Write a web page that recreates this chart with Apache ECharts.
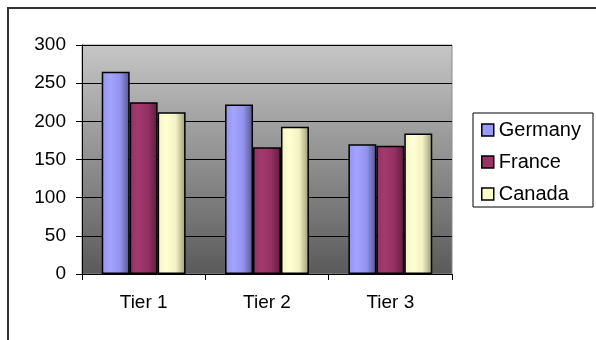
<!DOCTYPE html>
<html>
<head>
<meta charset="utf-8">
<script src="https://cdn.jsdelivr.net/npm/echarts@6/dist/echarts.min.js"></script>
<style>
  html, body { margin: 0; padding: 0; background: #fff; }
  #chart { width: 596px; height: 340px; }
</style>
</head>
<body>
<div id="chart"></div>
<script>
// Chart data
var categories = ['Tier 1', 'Tier 2', 'Tier 3'];
var germany = [265, 222, 170];
var france = [225, 166, 168];
var canada = [212, 193, 184];
var yTicks = [0, 50, 100, 150, 200, 250, 300];

var FONT = 'Liberation Sans, Arial, sans-serif';

// Horizontal shading for a cylinder-like bar face
function barFill(light, mid, dark) {
  return new echarts.graphic.LinearGradient(0, 0, 1, 0, [
    { offset: 0, color: mid },
    { offset: 0.3, color: light },
    { offset: 0.65, color: mid },
    { offset: 1, color: dark }
  ]);
}

function barSeries(name, data, fill) {
  return {
    name: name,
    type: 'bar',
    data: data,
    barGap: '0%',
    barCategoryGap: '32%',
    itemStyle: { color: fill, borderColor: '#000', borderWidth: 1.5 }
  };
}

var chart = echarts.init(document.getElementById('chart'), null, { renderer: 'canvas' });

chart.setOption({
  animation: false,
  color: ['#9999ff', '#993366', '#ffffcc'],
  graphic: [{
    // outer chart frame
    type: 'rect',
    shape: { x: 8, y: 8, width: 620, height: 360 },
    style: { fill: 'none', stroke: '#333', lineWidth: 2 },
    silent: true
  }, {
    // legend frame
    type: 'rect',
    shape: { x: 473, y: 113, width: 120, height: 94 },
    style: { fill: 'none', stroke: '#000', lineWidth: 1 },
    silent: true
  }],
  grid: {
    left: 82, right: 144, top: 45, bottom: 66,
    show: true,
    borderColor: '#8a8a8a',
    borderWidth: 1,
    backgroundColor: new echarts.graphic.LinearGradient(0, 0, 0, 1, [
      { offset: 0, color: '#c6c6c6' },
      { offset: 1, color: '#5a5a5a' }
    ])
  },
  legend: {
    orient: 'vertical',
    left: 473, top: 114,
    itemWidth: 12, itemHeight: 12,
    itemGap: 12,
    padding: [6, 8, 6, 8],
    textStyle: { fontFamily: FONT, fontSize: 20, color: '#000' },
    data: [
      { name: 'Germany', icon: 'rect', itemStyle: { color: '#9999ff', borderColor: '#000', borderWidth: 1.5 } },
      { name: 'France', icon: 'rect', itemStyle: { color: '#993366', borderColor: '#000', borderWidth: 1.5 } },
      { name: 'Canada', icon: 'rect', itemStyle: { color: '#ffffcc', borderColor: '#000', borderWidth: 1.5 } }
    ]
  },
  xAxis: {
    type: 'category',
    data: categories,
    axisLine: { lineStyle: { color: '#000', width: 1 } },
    axisTick: { show: true, length: 6, lineStyle: { color: '#000' } },
    axisLabel: { fontFamily: FONT, fontSize: 19, color: '#000', margin: 19 }
  },
  yAxis: {
    type: 'value',
    min: yTicks[0],
    max: yTicks[yTicks.length - 1],
    interval: 50,
    axisLine: { show: true, lineStyle: { color: '#000', width: 1 } },
    axisTick: { show: true, length: 6, lineStyle: { color: '#000' } },
    axisLabel: { fontFamily: FONT, fontSize: 19, color: '#000', margin: 16 },
    splitLine: { show: true, lineStyle: { color: '#000', width: 1 } }
  },
  series: [
    barSeries('Germany', germany, barFill('#a4a4ff', '#9393f0', '#55558a')),
    barSeries('France', france, barFill('#a33a6e', '#943162', '#5c1e3d')),
    barSeries('Canada', canada, barFill('#ffffd4', '#f2f2c2', '#9a9a7a'))
  ]
});
</script>
</body>
</html>
